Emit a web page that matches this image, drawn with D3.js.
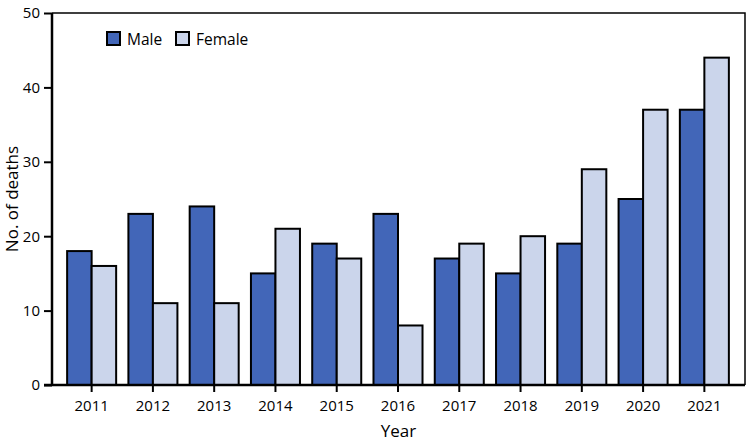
<!DOCTYPE html>
<html><head><meta charset="utf-8">
<script src="https://cdn.jsdelivr.net/npm/d3@7"></script>
<style>body{margin:0;background:#fff}svg{display:block;font-family:"Open Sans",sans-serif}</style>
</head><body>
<svg id="c" width="750" height="445"></svg>
<script>
const years = ["2011","2012","2013","2014","2015","2016","2017","2018","2019","2020","2021"];
const male = [18,23,24,15,19,23,17,15,19,25,37];
const female = [16,11,11,21,17,8,19,20,29,37,44];
const seriesNames = ["Male","Female"];
const yTicks = [0,10,20,30,40,50];
const colors = ["#4266b8","#cbd5eb"];

const svg = d3.select("#c");
const L = 52, R = 745, T = 13, B = 385;
const x = d3.scaleBand().domain(years).range([61,735]).paddingInner(0.2).paddingOuter(0.1);
const xs = d3.scaleBand().domain(seriesNames).range([0, x.bandwidth()]);
const y = d3.scaleLinear().domain([0,50]).range([B,T]);

// frame top/right
svg.append("path").attr("d",`M${L},${T}H${R}V${B}`).attr("fill","none").attr("stroke","#000").attr("stroke-width",1.5);

const data = years.map((yr,i)=>({yr, vals:[male[i],female[i]]}));
const g = svg.append("g");
data.forEach(d=>{
  d.vals.forEach((v,j)=>{
    g.append("rect")
      .attr("x", x(d.yr)+xs(seriesNames[j]))
      .attr("y", y(v))
      .attr("width", xs.bandwidth())
      .attr("height", y(0)-y(v))
      .attr("fill", colors[j]).attr("stroke","#000").attr("stroke-width",2);
  });
});

const xAxis = svg.append("g").attr("transform",`translate(0,${B})`)
  .call(d3.axisBottom(x).tickSize(7).tickPadding(8));
xAxis.select(".domain").attr("d",`M${L-8},0H${R}`).attr("stroke-width",2.5);
xAxis.selectAll(".tick line").attr("stroke-width",2);
xAxis.selectAll("text").attr("font-size",15).attr("fill","#000").attr("font-family","Open Sans");

const yAxis = svg.append("g").attr("transform",`translate(${L},0)`)
  .call(d3.axisLeft(y).tickValues(yTicks).tickSize(8).tickPadding(4));
yAxis.select(".domain").attr("d",`M0,${B}V${T}`).attr("stroke-width",2.5);
yAxis.selectAll(".tick line").attr("stroke-width",2);
yAxis.selectAll("text").attr("font-size",15).attr("fill","#000").attr("font-family","Open Sans");

svg.append("text").attr("x",(L+R)/2).attr("y",437).attr("text-anchor","middle")
  .attr("font-size",17).text("Year");
svg.append("text").attr("transform",`translate(18,${(T+B)/2}) rotate(-90)`).attr("text-anchor","middle")
  .attr("font-size",17).text("No. of deaths");

// legend
const leg = svg.append("g");
const legX = [107,176];
seriesNames.forEach((n,j)=>{
  leg.append("rect").attr("x",legX[j]).attr("y",32).attr("width",13).attr("height",13)
    .attr("fill",colors[j]).attr("stroke","#000").attr("stroke-width",2);
  leg.append("text").attr("x",legX[j]+20).attr("y",44.5).attr("font-size",15.5).text(n);
});
</script>
</body></html>
